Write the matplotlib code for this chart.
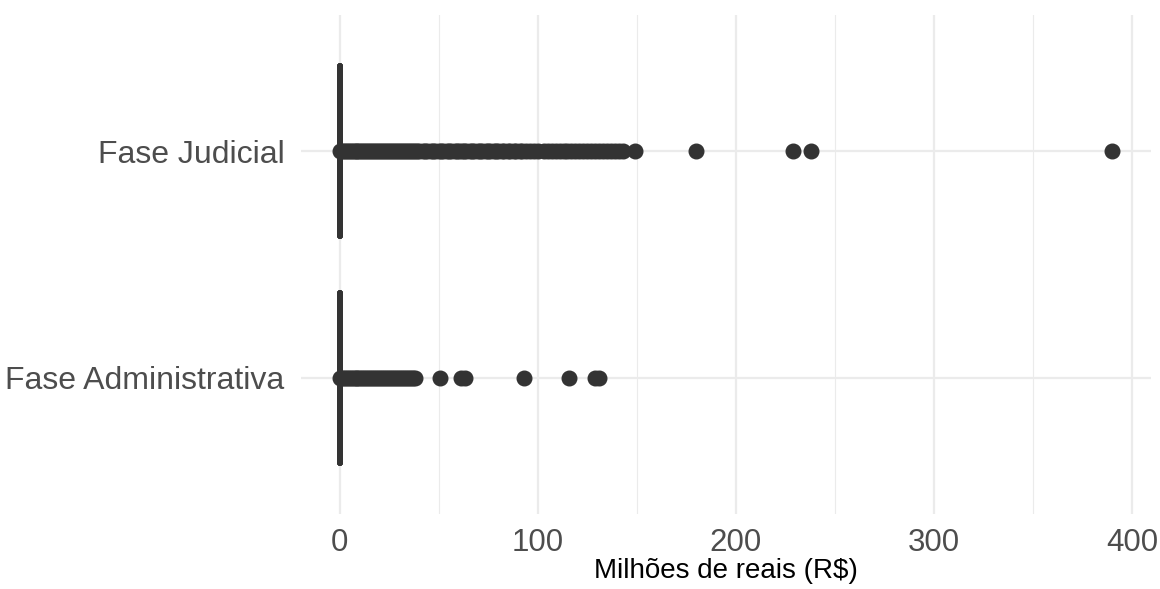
import matplotlib.pyplot as plt
from matplotlib.ticker import MultipleLocator

plt.rcParams['font.family'] = ['Liberation Sans', 'DejaVu Sans']

# categories, bottom to top
categorias = ['Fase Administrativa', 'Fase Judicial']

# box statistics (everything collapses at zero)
mediana = [0, 0]
q1 = [0, 0]
q3 = [0, 0]
whisk_lo = [0, 0]
whisk_hi = [0, 0]

# outliers in millions of R$
outliers_admin = [0.2, 1, 2, 3, 4, 5, 6, 7, 8, 9, 10, 11, 12, 13, 14, 15, 16,
                  17, 18, 19, 20, 21, 22, 23, 24, 25, 26, 27, 28, 29, 30, 31,
                  32, 33, 34, 35, 36, 37, 38, 50.5, 61.5, 63.5, 93, 116, 129,
                  131]
outliers_judicial = [0.2, 1, 2, 3, 4, 5, 6, 7, 8, 9, 10, 11, 12, 13, 14, 15, 16,
                     17, 18, 19, 20, 21, 22, 23, 24, 25, 26, 27, 28, 29, 30, 31,
                     32, 33, 34, 35, 36, 37, 38, 39, 40, 42, 43, 44, 46, 47, 48,
                     50, 51, 52, 54, 55, 56, 58, 59, 60, 62, 63, 64, 66, 67, 68,
                     70, 71, 72, 74, 75, 76, 78, 79, 80, 82, 83, 85, 86, 88, 89,
                     91, 92, 94, 96, 98, 100, 103, 105, 107, 109, 111, 113, 115,
                     117, 119, 121, 123, 125, 127, 129, 131, 133, 135, 137, 139,
                     141, 143, 149, 180, 229, 238, 390]
outliers = [outliers_admin, outliers_judicial]

xticks = [0, 100, 200, 300, 400]

dark = '#333333'

fig = plt.figure(figsize=(11.6, 5.89), dpi=100)
ax = fig.add_axes([0.2595, 0.1273, 0.9922 - 0.2595, 0.9745 - 0.1273])

stats = []
for i in range(len(categorias)):
    stats.append({'med': mediana[i], 'q1': q1[i], 'q3': q3[i],
                  'whislo': whisk_lo[i], 'whishi': whisk_hi[i],
                  'fliers': outliers[i], 'label': categorias[i]})

ax.bxp(stats, positions=[1, 2], widths=0.75, orientation='horizontal',
       showfliers=True, patch_artist=False,
       boxprops=dict(color=dark, linewidth=4.2, solid_capstyle='round'),
       medianprops=dict(color=dark, linewidth=4.2, solid_capstyle='round'),
       whiskerprops=dict(color=dark, linewidth=1.5),
       capprops=dict(linewidth=0),
       flierprops=dict(marker='o', markersize=10.5, markerfacecolor=dark,
                       markeredgecolor=dark, linestyle='none'),
       zorder=3)

ax.set_xlim(-19.5, 409.5)
ax.set_ylim(0.4, 2.6)
ax.set_xticks(xticks)
ax.xaxis.set_minor_locator(MultipleLocator(50))
ax.set_yticks([1, 2])
ax.set_yticklabels(categorias)

ax.grid(True, which='major', color='#EBEBEB', linewidth=1.6, zorder=0)
ax.grid(True, which='minor', axis='x', color='#EBEBEB', linewidth=0.8, zorder=0)
ax.set_axisbelow(True)

for s in ax.spines.values():
    s.set_visible(False)
ax.tick_params(which='both', length=0)
ax.tick_params(axis='x', labelsize=22.5, labelcolor='#4D4D4D', pad=10)
ax.tick_params(axis='y', labelsize=23, labelcolor='#4D4D4D', pad=12)

ax.set_xlabel('Milhões de reais (R$)', fontsize=20, color='black', labelpad=0)

fig.savefig('out.png', dpi=100)
